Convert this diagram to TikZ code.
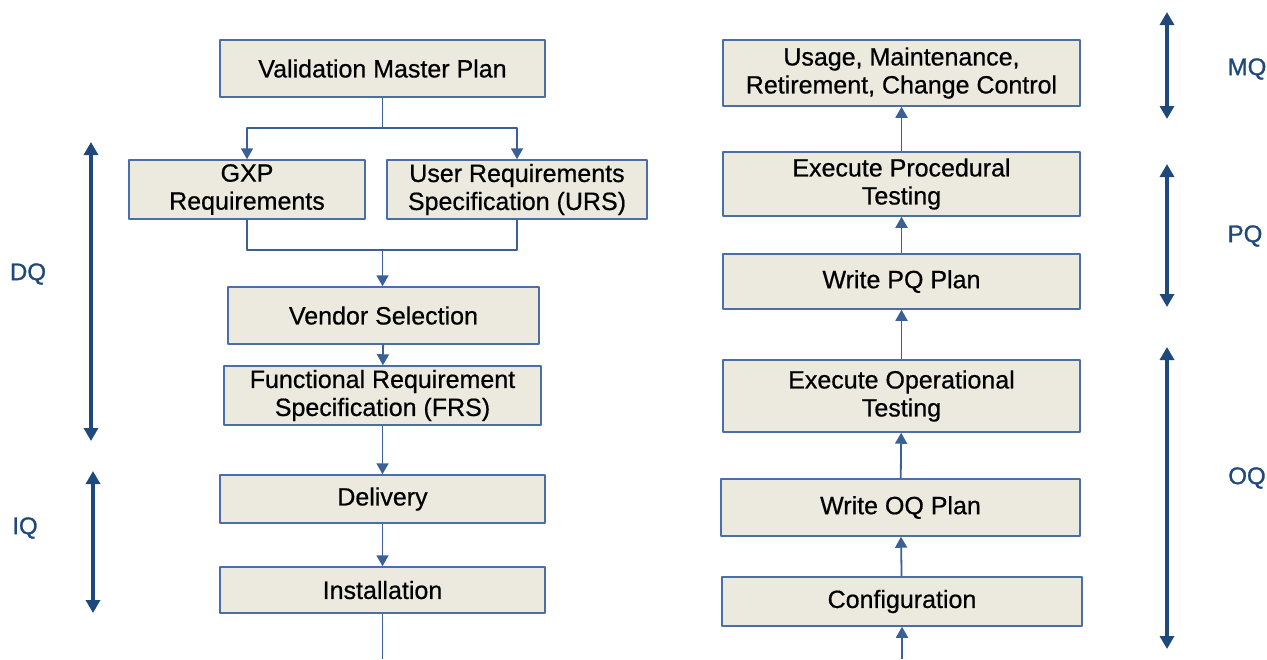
\documentclass[tikz,border=0pt]{standalone}
\usepackage{fontspec}
\setmainfont{Liberation Sans}
\newfontfamily\boxfont{Liberation Sans}[FakeBold=0.6]
\newfontfamily\tagfont{Liberation Sans}[FakeBold=1.2]
\usetikzlibrary{arrows.meta}
\definecolor{boxfill}{RGB}{236,233,223}
\definecolor{boxline}{RGB}{74,110,165}
\definecolor{flowline}{RGB}{58,96,150}
\definecolor{phaseblue}{RGB}{31,73,125}
\begin{document}
\begin{tikzpicture}[x=1pt, y=-1pt, line join=round,
	box/.style={draw=boxline, fill=boxfill, line width=1.5pt, align=center, inner sep=0pt, font=\boxfont\fontsize{25}{28}\selectfont},
	link/.style={draw=flowline, line width=1.8pt},
	flow/.style={link, -{Triangle[length=11pt,width=12pt]}},
	phase/.style={draw=phaseblue, line width=4pt, {Triangle[length=13pt,width=14pt]}-{Triangle[length=13pt,width=14pt]}},
	tag/.style={text=phaseblue, font=\tagfont\fontsize{24}{28}\selectfont}]
	\useasboundingbox[fill=white] (0,0) rectangle (1267,659);
	\node[box, minimum width=325pt, minimum height=57pt] (vmp) at (382.5,68.5) {Validation Master Plan};
	\node[box, minimum width=236pt, minimum height=59pt] (gxp) at (247,189.5) {GXP\\Requirements};
	\node[box, minimum width=260pt, minimum height=59pt] (urs) at (517,189.5) {User Requirements\\Specification (URS)};
	\node[box, minimum width=311pt, minimum height=57pt] (vendor) at (383.5,315.5) {Vendor Selection};
	\node[box, minimum width=317pt, minimum height=59pt] (frs) at (382.5,395.5) {Functional Requirement\\Specification (FRS)};
	\node[box, minimum width=325pt, minimum height=48pt] (delivery) at (382.5,499) {Delivery};
	\node[box, minimum width=325pt, minimum height=46pt] (install) at (382.5,590) {Installation};
	\node[box, minimum width=357pt, minimum height=66pt] (usage) at (901.5,73) {Usage, Maintenance,\\Retirement, Change Control};
	\node[box, minimum width=357pt, minimum height=64pt] (exproc) at (901.5,184) {Execute Procedural\\Testing};
	\node[box, minimum width=357pt, minimum height=55pt] (wpq) at (901.5,281.5) {Write PQ Plan};
	\node[box, minimum width=357pt, minimum height=72pt] (exop) at (901.5,396) {Execute Operational\\Testing};
	\node[box, minimum width=359pt, minimum height=57pt] (woq) at (900.5,507.5) {Write OQ Plan};
	\node[box, minimum width=360pt, minimum height=49pt] (config) at (902,601.5) {Configuration};
	\coordinate (split) at (382.5,128);
	\coordinate (merge) at (382.5,250);
	\coordinate (leftend) at (382.5,659);
	\coordinate (rightend) at (902,659);
	\draw[link] (vmp.south) -- (split);
	\draw[flow] (split) -| (gxp.north);
	\draw[flow] (split) -| (urs.north);
	\draw[link] (gxp.south) |- (merge) -| (urs.south);
	\draw[flow] (merge) -- (merge |- vendor.north);
	\draw[flow] (vendor) -- (frs);
	\draw[flow] (frs) -- (delivery);
	\draw[flow] (delivery) -- (install);
	\draw[link] (install.south) -- (leftend);
	\draw[flow] (rightend) -- (config.south);
	\draw[flow] (config) -- (woq);
	\draw[flow] (woq) -- (exop);
	\draw[flow] (exop) -- (wpq);
	\draw[flow] (wpq) -- (exproc);
	\draw[flow] (exproc) -- (usage);
	\coordinate (dqtop) at (91,142);
	\coordinate (dqbot) at (91,441);
	\coordinate (iqtop) at (93,471);
	\coordinate (iqbot) at (93,613);
	\coordinate (mqtop) at (1167,12);
	\coordinate (mqbot) at (1167,119);
	\coordinate (pqtop) at (1167,164);
	\coordinate (pqbot) at (1167,307);
	\coordinate (oqtop) at (1167,347);
	\coordinate (oqbot) at (1167,649);
	\draw[phase] (dqtop) -- (dqbot);
	\draw[phase] (iqtop) -- (iqbot);
	\draw[phase] (mqtop) -- (mqbot);
	\draw[phase] (pqtop) -- (pqbot);
	\draw[phase] (oqtop) -- (oqbot);
	\node[tag] (dq) at (28,274) {DQ};
	\node[tag] (iq) at (25,528) {IQ};
	\node[tag] (mq) at (1247,69) {MQ};
	\node[tag] (pq) at (1245,236) {PQ};
	\node[tag] (oq) at (1247,478) {OQ};
\end{tikzpicture}
\end{document}
